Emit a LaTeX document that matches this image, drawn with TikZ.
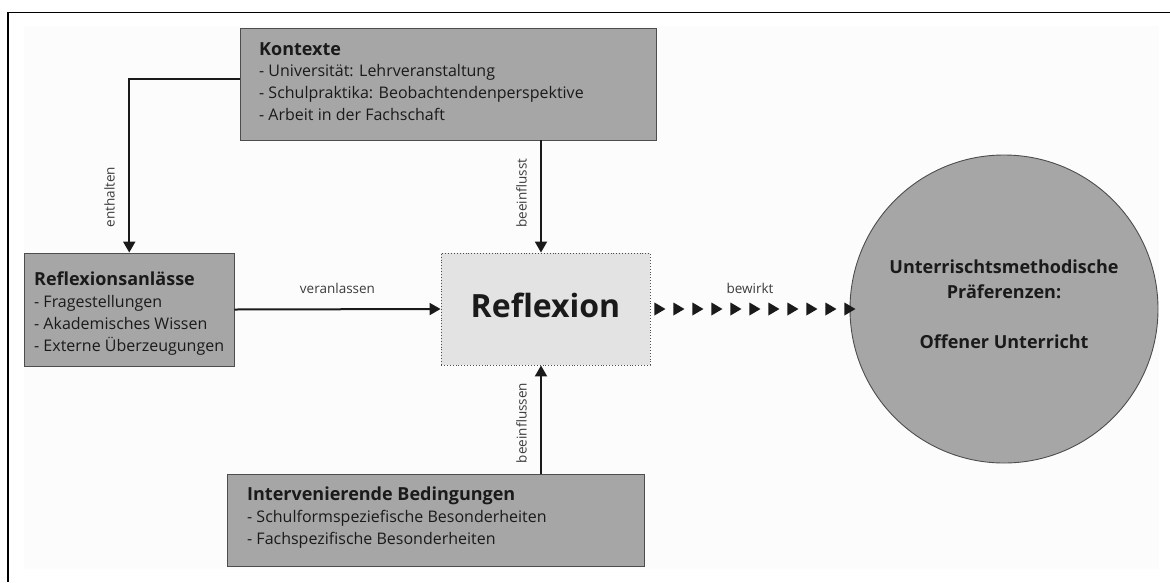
\documentclass[tikz,border=0pt]{standalone}
\usepackage{fontspec}
\setmainfont{Open Sans}
\usetikzlibrary{arrows.meta,decorations.markings,calc}
\definecolor{boxgray}{HTML}{A6A6A6}
\definecolor{reflgray}{HTML}{E3E3E3}
\definecolor{edgegray}{HTML}{4D4D4D}
\definecolor{bgwhite}{HTML}{FCFCFC}
\definecolor{ink}{HTML}{1A1A1A}
\newcommand{\boxhead}[1]{{\fontsize{18}{21.7}\selectfont\bfseries #1}}
\begin{document}
\begin{tikzpicture}[x=1pt,y=-1pt,
  box/.style={draw=edgegray, line width=0.9pt, fill=boxgray, rectangle, inner sep=0pt},
  boxtext/.style={anchor=north west, inner sep=0pt, align=left, text=ink,
    font=\fontsize{16}{21.7}\selectfont},
  conn/.style={line width=2pt, draw=ink, -{Triangle[width=12pt,length=11pt]}},
  lbl/.style={text=ink!85, font=\fontsize{13.5}{16}\selectfont, inner sep=0pt},
  vlbl/.style={lbl, rotate=90, anchor=south, inner sep=0pt},
]
% page and frame
\useasboundingbox (0,0) rectangle (1170,582);
\fill[white] (0,0) rectangle (1170,582);
\fill[bgwhite] (24,26) rectangle (1159,569);
\draw[line width=1.8pt, black] (1170,12.5) -- (8.3,12.5) -- (8.3,582);

% boxes
\node[box, minimum width=416pt, minimum height=112pt] (ctx) at (448,84) {};
\node[box, minimum width=209.5pt, minimum height=113pt] (ra) at (129.25,309.5) {};
\node[box, minimum width=417pt, minimum height=92pt] (ib) at (435.5,520) {};
\node[rectangle, inner sep=0pt, fill=reflgray, draw=edgegray, line width=0.9pt,
      dotted, minimum width=209pt, minimum height=112pt] (refl) at (545.5,309) {};
\node[circle, inner sep=0pt, minimum size=308pt, fill=boxgray, draw=edgegray,
      line width=0.9pt] (circ) at (1004,309) {};

% box texts
\node[boxtext] (ctxT) at (259,42) {\boxhead{Kontexte}\\
  - Universität: Lehrveranstaltung\\
  - Schulpraktika: Beobachtendenperspektive\\
  - Arbeit in der Fachschaft};
\node[boxtext] (raT) at (34,272) {\boxhead{Reflexionsanlässe}\\
  - Fragestellungen\\
  - Akademisches Wissen\\
  - Externe Überzeugungen};
\node[boxtext] (ibT) at (247,487) {\boxhead{Intervenierende Bedingungen}\\
  - Schulformspeziefische Besonderheiten\\
  - Fachspezifische Besonderheiten};
\node[text=ink, inner sep=0pt, font=\fontsize{32}{40}\selectfont\bfseries]
  (reflT) at ([yshift=4pt]refl.center) {Reflexion};
\node[text=ink, inner sep=0pt, align=center, font=\fontsize{18}{25}\selectfont\bfseries]
  (circT) at ([yshift=5pt]circ.center) {Unterrischtsmethodische\\ Präferenzen:\\[25pt] Offener Unterricht};

% connectors
\draw[conn] ([yshift=5pt]ctx.west) -| (ra.north);
\node[vlbl] (enthaltenL) at (115,197) {enthalten};
\draw[conn] ([xshift=-4.5pt]refl.north |- ctx.south) -- ([xshift=-4.5pt]refl.north);
\node[vlbl] (beeinflusstL) at (527,193) {beeinflusst};
\draw[conn] ([xshift=-4.5pt]refl.south |- ib.north) -- ([xshift=-4.5pt]refl.south);
\node[vlbl] (beeinflussenL) at (527,423) {beeinflussen};
\draw[conn] (ra.east) -- (refl.west)
  node[lbl, midway, anchor=base, yshift=15.5pt] (veranlassenL) {veranlassen};
\path[postaction={decorate}, decoration={markings,
    mark=between positions 4pt and 195pt step 19pt with
      {\fill[ink] (0pt,6.5pt) -- (11pt,0pt) -- (0pt,-6.5pt) -- cycle;}}]
  (refl.east) -- (circ.west)
  node[lbl, midway, anchor=base, yshift=15.5pt] (bewirktL) {bewirkt};
\end{tikzpicture}
\end{document}
